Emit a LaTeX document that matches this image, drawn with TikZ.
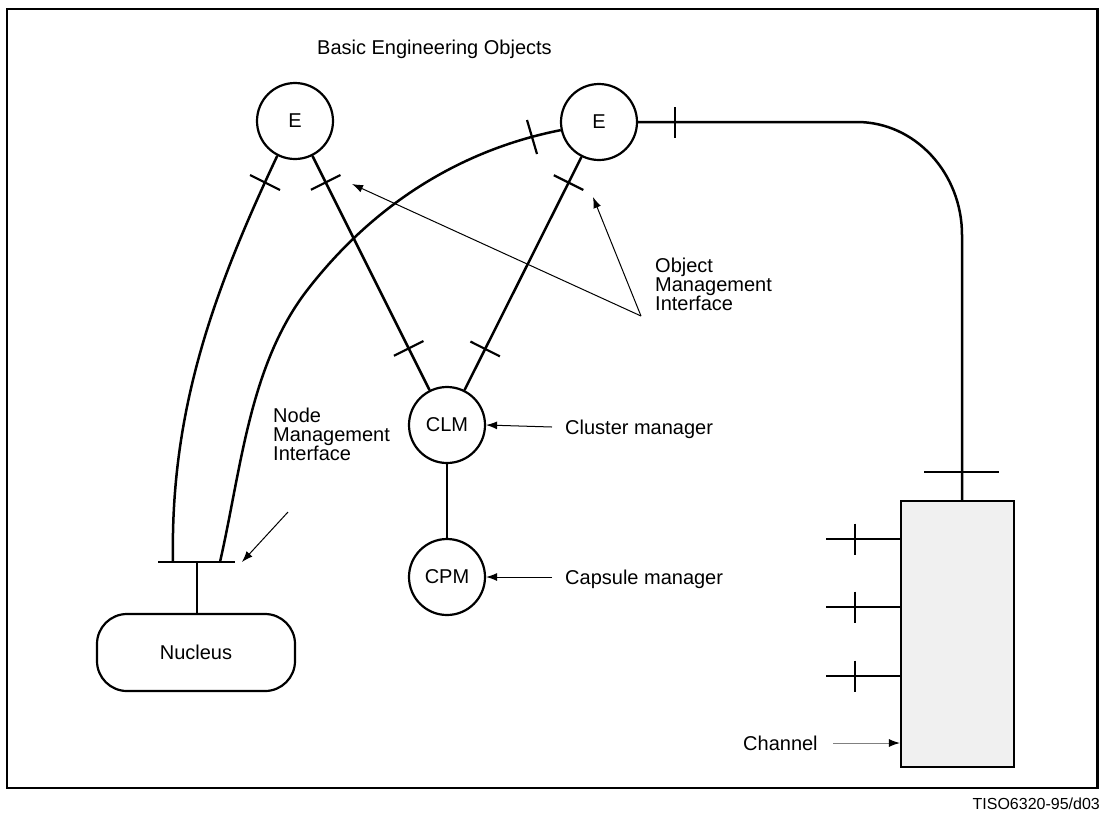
\documentclass[tikz,border=0pt]{standalone}
\usepackage{fontspec}
\setmainfont{Liberation Sans}
\usetikzlibrary{calc,arrows.meta}
\definecolor{chfill}{HTML}{F0F0F0}
\definecolor{chline}{HTML}{808080}
\begin{document}
\begin{tikzpicture}[x=1pt,y=-1pt,
  every node/.style={font=\fontsize{20}{19}\selectfont},
  circ/.style={circle,draw,line width=2.2pt,minimum size=76pt,inner sep=0pt},
  wire/.style={line width=2.5pt},
  tickmark/.style={line width=2.2pt},
  arr/.style={line width=1pt,-{Latex[length=11pt,width=8pt]}},
  lbl/.style={inner sep=0pt,align=left,anchor=base west}]
\useasboundingbox (0,0) rectangle (1103,812);
\draw[line width=2.5pt] (7,9) rectangle (1097.5,788);

% nodes
\node[lbl] (beo) at (317,54) {Basic Engineering Objects};
\node[circ] (E1) at (295,121) {E};
\node[circ] (E2) at (599,122) {E};
\node[circ] (CLM) at (447,425) {CLM};
\node[circ] (CPM) at (447,577) {CPM};
\node[draw,line width=2.2pt,rounded corners=30pt,minimum width=198pt,minimum height=77pt,inner sep=0pt] (nuc) at (196,652.5) {Nucleus};
\node[draw,line width=2.2pt,fill=chfill,minimum width=113pt,minimum height=266pt,inner sep=0pt] (ch) at (957.5,634) {};

% coordinates
\coordinate (bl) at (158,562);
\coordinate (br) at (235,562);
\coordinate (nbL) at (173,562);
\coordinate (nbR) at (220,562);
\coordinate (stem) at (197,562);
\coordinate (arcmid) at (305,293);
\coordinate (rc) at (962,235);
\coordinate (hc) at (857,122);
\coordinate (p1) at (826,539);
\coordinate (p2) at (826,607);
\coordinate (p3) at (826,676);
\coordinate (om) at (641,316);
\coordinate (omt1) at (352,184);
\coordinate (omt2) at (593,197);
\coordinate (nm) at (288,512);
\coordinate (nmt) at (242,562);
\coordinate (cls) at (552,427);
\coordinate (cps) at (552,577);
\coordinate (chs) at (833,743);

% node management bar
\draw[wire] (bl) -- (br);
\draw[wire] (stem) -- (stem |- nuc.north);

% straight links
\draw[wire] (E1) -- (CLM);
\draw[wire] (E2) -- (CLM);
\draw[wire] (CLM) -- (CPM);
\foreach \a/\b/\t in {E1/CLM/0.202, E1/CLM/0.748, E2/CLM/0.2, E2/CLM/0.749}{
  \coordinate (tk) at ($(\a)!\t!(\b)$);
  \draw[tickmark] ($(tk)!16.5pt!90:(\b)$) -- ($(tk)!16.5pt!-90:(\b)$);
}

% curved links
\draw[wire] (E1.243) .. controls (214,290) and (170,410) .. (nbL);
\draw[tickmark] (250,175) -- (280,190);
\draw[wire] (nbR) .. controls (241,470) and (249,368) .. (arcmid)
  .. controls (372,205) and (460,150) .. (E2.192);
\draw[tickmark] (527,120) -- (537,154);

% E2 to channel
\draw[wire] (E2.east) -- (hc) .. controls (915,122) and (962,173) .. (rc) -- (rc |- ch.north);
\draw[wire] (675,107) -- (675,138);
\draw[wire] (924,472) -- (999,472);

% channel ports
\foreach \p in {p1,p2,p3}{
  \draw[wire] (\p) -- (\p -| ch.west);
  \draw[wire] ($(\p)+(29,-15.5)$) -- ($(\p)+(29,15.5)$);
}

% labels
\node[lbl] (omi) at (655,310) {Object\\Management\\Interface};
\node[lbl] (nmi) at (273,460) {Node\\Management\\Interface};
\node[lbl] (clml) at (565,434) {Cluster manager};
\node[lbl] (cpml) at (565,584) {Capsule manager};
\node[lbl] (chl) at (743,750) {Channel};
\node[inner sep=0pt,anchor=base east,font=\fontsize{16}{16}\selectfont] (cap) at (1100,809) {TISO6320-95/d03};

% arrows
\draw[arr] (om) -- (omt1);
\draw[arr] (om) -- (omt2);
\draw[arr] (nm) -- (nmt);
\draw[arr] (cls) -- (CLM.east);
\draw[arr] (cps) -- (CPM.east);
\draw[line width=1pt,chline,-{Latex[length=11pt,width=8pt,black]}] (chs) -- (chs -| ch.west);
\end{tikzpicture}
\end{document}
